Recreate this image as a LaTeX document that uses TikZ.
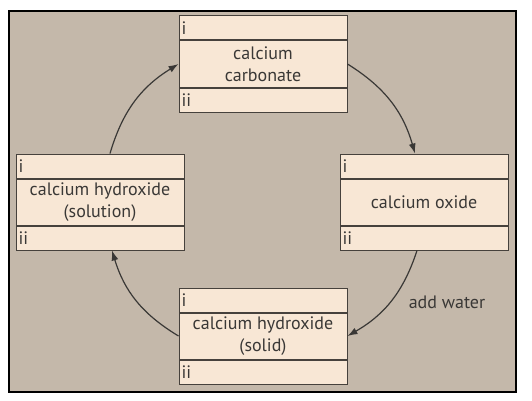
\documentclass[tikz,border=0pt]{standalone}
\usepackage{fontspec}
\setmainfont{PT Sans}
\usepackage{tikz}
\usetikzlibrary{arrows.meta,positioning}
\definecolor{panelgrey}{RGB}{196,184,170}
\definecolor{boxfill}{RGB}{248,231,213}
\definecolor{boxline}{RGB}{70,65,60}
\definecolor{inkgrey}{RGB}{58,56,54}

\begin{document}
\begin{tikzpicture}[
    x=1pt, y=1pt,
    >={Latex[length=10pt,width=7pt]},
    font=\fontsize{18}{22}\selectfont,
    every node/.style={text=inkgrey},
    chem/.style={
        rectangle,
        draw=boxline,
        fill=boxfill,
        line width=1pt,
        minimum width=168pt,
        minimum height=46pt,
        inner sep=0pt,
        align=center
    },
    strip/.style={
        rectangle,
        draw=boxline,
        fill=boxfill,
        line width=1pt,
        text width=163pt,
        inner xsep=2.5pt,
        inner ysep=0pt,
        minimum height=24pt,
        align=left
    },
    cycle/.style={->, draw=inkgrey, line width=1.2pt}
]
\useasboundingbox[fill=white] (0,0) rectangle (532,400);
\draw[fill=panelgrey, line width=1.5pt] (9,8) rectangle (516,389);

\node[chem] (carbonate) at (263,336) {calcium\\carbonate};
\node[strip, above=0pt of carbonate] (carbonatei) {i};
\node[strip, below=0pt of carbonate] (carbonateii) {ii};

\node[chem] (oxide) at (424,198) {calcium oxide};
\node[strip, above=0pt of oxide] (oxidei) {i};
\node[strip, below=0pt of oxide] (oxideii) {ii};

\node[chem] (solid) at (263,64) {calcium hydroxide\\(solid)};
\node[strip, above=0pt of solid] (solidi) {i};
\node[strip, below=0pt of solid] (solidii) {ii};

\node[chem] (solution) at (100,198) {calcium hydroxide\\(solution)};
\node[strip, above=0pt of solution] (solutioni) {i};
\node[strip, below=0pt of solution] (solutionii) {ii};

\node (water) at (447,98) {add water};

\draw[cycle] (carbonate.east) to[bend left=21] ([xshift=-9pt]oxidei.north);
\draw[cycle] ([xshift=-7pt]oxideii.south) to[bend left=21] (solid.east);
\draw[cycle] (solid.west) to[bend left=21] ([xshift=12pt]solutionii.south);
\draw[cycle] ([xshift=10pt]solutioni.north) to[bend left=21] (carbonate.west);
\end{tikzpicture}
\end{document}
